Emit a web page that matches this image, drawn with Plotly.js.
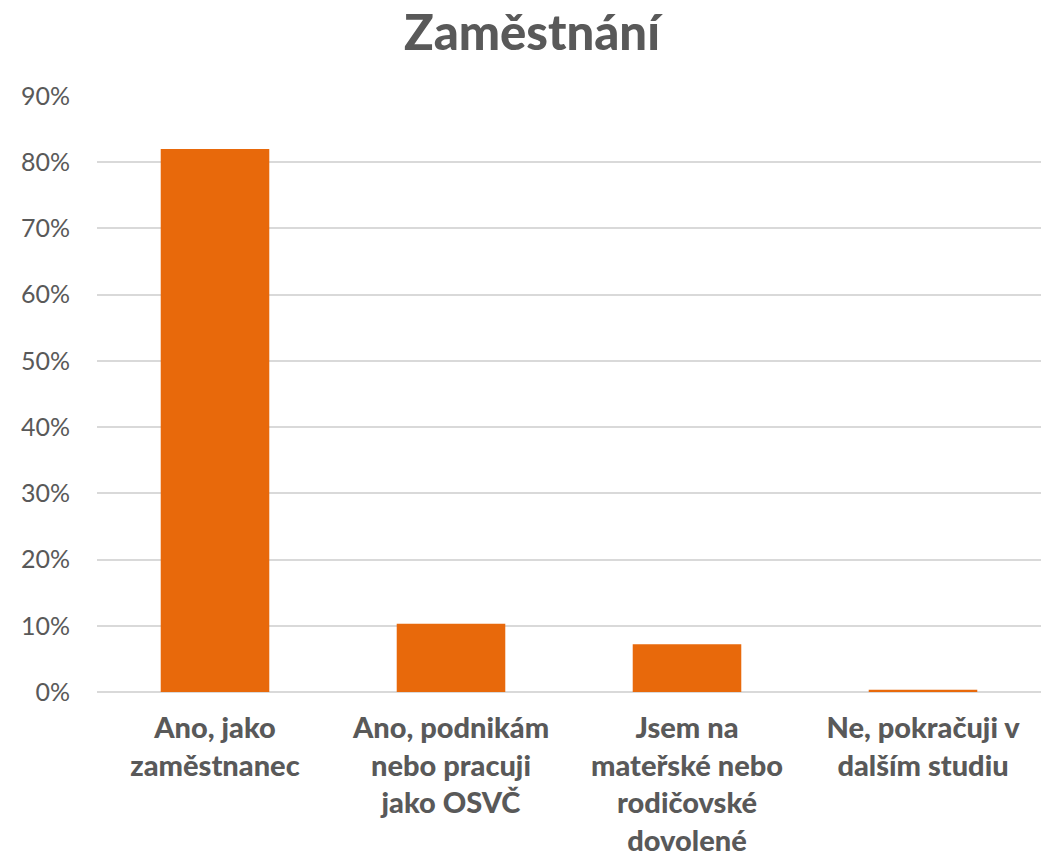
<!DOCTYPE html>
<html>
<head>
<meta charset="utf-8">
<script src="https://cdn.plot.ly/plotly-3.0.1.min.js"></script>
<style>html,body{margin:0;padding:0;background:#fff;}#chart{width:1043px;height:856px;}</style>
</head>
<body>
<div id="chart"></div>
<script>
const chartTitle = "Zaměstnání";
const categories = [
  "Ano, jako<br>zaměstnanec",
  "Ano, podnikám<br>nebo pracuji<br>jako OSVČ",
  "Jsem na<br>mateřské nebo<br>rodičovské<br>dovolené",
  "Ne, pokračuji v<br>dalším studiu"
];
const values = [0.82, 0.103, 0.072, 0.0035];
const yTickVals = [0, 0.1, 0.2, 0.3, 0.4, 0.5, 0.6, 0.7, 0.8, 0.9];
const yTickText = ["0%", "10%", "20%", "30%", "40%", "50%", "60%", "70%", "80%", "90%"];

const gray = "#595959";
const trace = {
  type: "bar",
  x: categories,
  y: values,
  marker: {color: "#E8690B"},
  hoverinfo: "skip"
};
const layout = {
  width: 1043,
  height: 856,
  margin: {l: 97, r: 2, t: 96, b: 164},
  paper_bgcolor: "#fff",
  plot_bgcolor: "#fff",
  bargap: 0.54,
  showlegend: false,
  title: {
    text: chartTitle,
    font: {family: "Lato, 'Open Sans', sans-serif", size: 49, color: gray, weight: 900},
    x: 0.51, xanchor: "center",
    y: 0.962, yanchor: "middle"
  },
  xaxis: {
    type: "category",
    showgrid: false,
    showline: false,
    ticks: "",
    tickangle: 0,
    tickfont: {family: "Lato, 'Open Sans', sans-serif", size: 29, color: gray, weight: 900},
    ticklabelstandoff: 16
  },
  yaxis: {
    range: [0, 0.9],
    tickvals: yTickVals,
    ticktext: yTickText,
    showgrid: true,
    gridcolor: "#d9d9d9",
    gridwidth: 2,
    zeroline: true,
    zerolinecolor: "#d9d9d9",
    zerolinewidth: 2,
    showline: false,
    ticks: "",
    tickfont: {family: "Lato, 'Open Sans', sans-serif", size: 25, color: gray},
    ticklabelstandoff: 26
  }
};
Plotly.newPlot("chart", [trace], layout, {displayModeBar: false, staticPlot: true});
</script>
</body>
</html>
